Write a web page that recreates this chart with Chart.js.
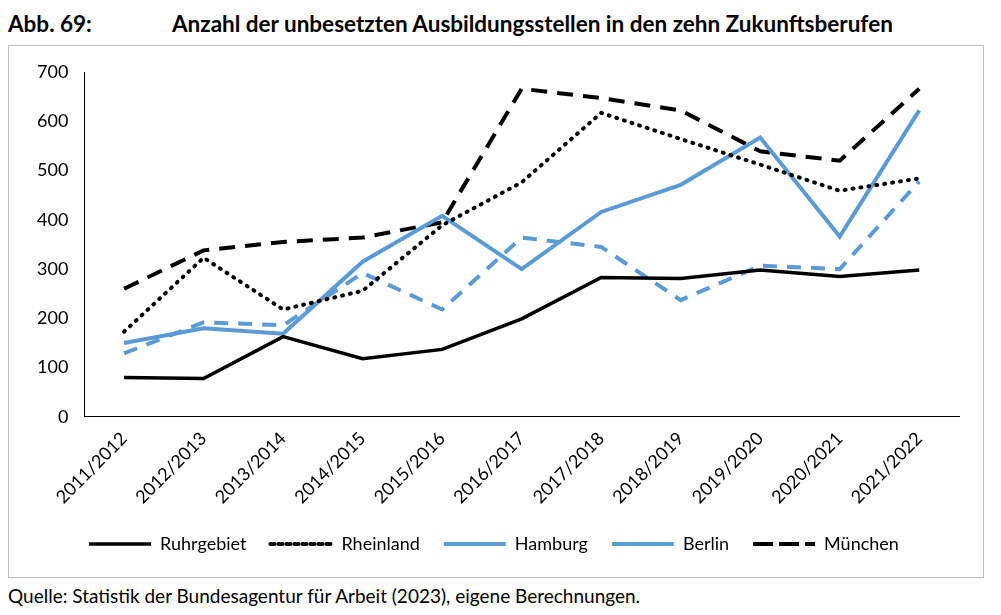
<!DOCTYPE html>
<html><head><meta charset="utf-8">
<script src="https://cdn.jsdelivr.net/npm/chart.js@4"></script>
<style>
body{margin:0;background:#fff;font-family:Lato,"Open Sans",sans-serif;}
#head{position:absolute;left:8px;top:10px;font-weight:bold;font-size:22.5px;color:#000;}
#head span{position:absolute;left:164px;white-space:nowrap;}
#box{position:absolute;left:8px;top:45px;width:974px;height:531px;border:1px solid #bfbfbf;}
#src{position:absolute;left:8px;top:584px;font-size:19px;color:#000;white-space:nowrap;}
</style></head><body>
<div id="head">Abb. 69:<span>Anzahl der unbesetzten Ausbildungsstellen in den zehn Zukunftsberufen</span></div>
<div id="box"><canvas id="c"></canvas></div>
<div id="src">Quelle: Statistik der Bundesagentur für Arbeit (2023), eigene Berechnungen.</div>
<script>
const jahre = ["2011/2012","2012/2013","2013/2014","2014/2015","2015/2016","2016/2017","2017/2018","2018/2019","2019/2020","2020/2021","2021/2022"];
const ruhrgebiet = [80,78,163,118,137,199,283,281,298,285,298];
const rheinland = [173,323,218,256,389,476,617,564,512,459,484];
const hamburg = [129,192,186,292,218,364,345,237,307,300,478];
const berlin = [150,180,169,315,408,300,416,471,567,366,622];
const muenchen = [260,338,355,364,395,666,647,622,539,520,666];

const blau = "#5B9BD5";
function serie(label, data, farbe, dash, breite) {
  return { label, data, borderColor: farbe, backgroundColor: "transparent", borderDash: dash,
    borderWidth: breite, pointRadius: 0, tension: 0, borderCapStyle: dash.length && dash[0] < 4 ? "round" : "butt" };
}
const cv = document.getElementById("c");
cv.width = 974; cv.height = 531;
cv.style.width = "974px"; cv.style.height = "531px";
const schrift = { family: "Lato", size: 18 };

new Chart(cv, {
  type: "line",
  data: {
    labels: jahre,
    datasets: [
      serie("Ruhrgebiet", ruhrgebiet, "#000", [], 3.5),
      serie("Rheinland", rheinland, "#000", [1, 7], 4),
      serie("Hamburg", hamburg, blau, [14, 10], 4),
      serie("Berlin", berlin, blau, [], 4),
      serie("München", muenchen, "#000", [16, 10], 4)
    ]
  },
  options: {
    responsive: false,
    animation: false,
    layout: { padding: { left: 20, right: 24, top: 26, bottom: 14 } },
    plugins: {
      legend: {
        position: "bottom",
        labels: { boxWidth: 62, boxHeight: 0, color: "#000", font: schrift, padding: 24 }
      },
      tooltip: { enabled: false }
    },
    scales: {
      x: {
        offset: true,
        grid: { display: false },
        border: { color: "#000", width: 1 },
        ticks: { color: "#000", maxRotation: 45, minRotation: 45, font: schrift }
      },
      y: {
        min: 0, max: 700,
        grid: { display: false },
        border: { color: "#000", width: 1 },
        ticks: { stepSize: 100, color: "#000", font: schrift, padding: 8 }
      }
    }
  }
});
</script>
</body></html>
